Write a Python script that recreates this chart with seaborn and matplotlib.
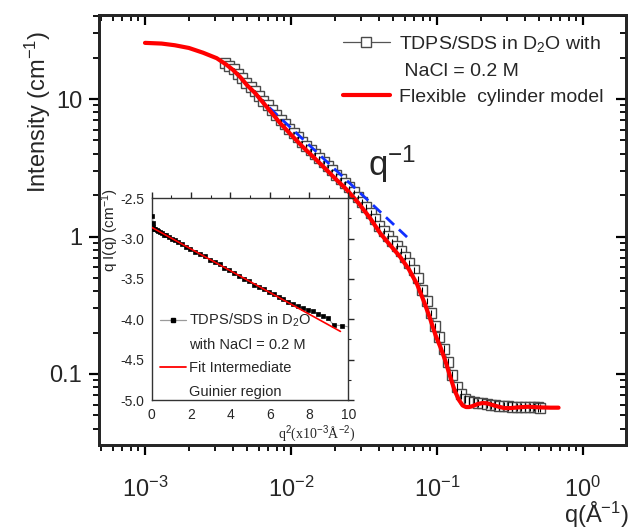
import numpy as np
import pandas as pd
import matplotlib
matplotlib.use("Agg")
import matplotlib.pyplot as plt
import seaborn as sns
from matplotlib import font_manager as fm
from matplotlib.lines import Line2D
from matplotlib.ticker import FixedLocator, FixedFormatter, MultipleLocator, FormatStrFormatter, LogLocator, NullFormatter

# ---------------- data ----------------
data_q = [3.53e-3, 3.78e-3, 4.04e-3, 4.32e-3, 4.62e-3, 4.95e-3, 5.29e-3, 5.66e-3, 6.06e-3, 6.48e-3,
          6.94e-3, 7.42e-3, 7.94e-3, 8.50e-3, 9.09e-3, 9.73e-3, 1.041e-2, 1.114e-2, 1.192e-2, 1.275e-2,
          1.365e-2, 1.460e-2, 1.562e-2, 1.672e-2, 1.789e-2, 1.914e-2, 2.048e-2, 2.191e-2, 2.345e-2, 2.509e-2,
          2.685e-2, 2.873e-2, 3.074e-2, 3.289e-2, 3.519e-2, 3.766e-2, 4.029e-2, 4.311e-2, 4.613e-2, 4.936e-2,
          5.282e-2, 5.651e-2, 6.047e-2, 6.470e-2, 6.923e-2, 7.408e-2, 7.926e-2, 8.481e-2, 9.075e-2, 9.710e-2,
          0.1039, 0.1112, 0.1190, 0.1273, 0.1362, 0.1457, 0.1559, 0.1669, 0.1785, 0.1910,
          0.2044, 0.2187, 0.2340, 0.2504, 0.2679, 0.2867, 0.3068, 0.3282, 0.3512, 0.3758,
          0.4021, 0.4302, 0.4603, 0.4926, 0.507]
data_I = [18.3, 17.3, 16.4, 15.3, 14.2, 13.0, 12.2, 11.4, 10.5, 9.75,
          9.0, 8.3, 7.6, 7.0, 6.55, 6.05, 5.65, 5.25, 4.88, 4.58,
          4.27, 4.0, 3.74, 3.48, 3.24, 3.02, 2.82, 2.63, 2.45, 2.28,
          2.11, 1.94, 1.78, 1.63, 1.48, 1.34, 1.2, 1.10, 1.01, 0.92,
          0.85, 0.78, 0.71, 0.64, 0.57, 0.495, 0.41, 0.34, 0.28, 0.225,
          0.185, 0.152, 0.122, 0.098, 0.080, 0.071, 0.066, 0.064, 0.0625, 0.062,
          0.0612, 0.0605, 0.0598, 0.0592, 0.0588, 0.0585, 0.0582, 0.0580, 0.0578, 0.0577,
          0.0576, 0.0575, 0.0574, 0.0572, 0.0570]
data_err = [0.37, 0.35, 0.33, 0.31, 0.28, 0.26, 0.24, 0.23, 0.21, 0.20,
            0.18, 0.17, 0.15, 0.14, 0.13, 0.12, 0.11, 0.10, 0.098, 0.092,
            0.13, 0.12, 0.11, 0.10, 0.097, 0.091, 0.085, 0.079, 0.074, 0.068,
            0.063, 0.058, 0.089, 0.082, 0.074, 0.067, 0.060, 0.055, 0.050, 0.046,
            0.0425, 0.039, 0.0355, 0.032, 0.0285, 0.025, 0.0205, 0.017, 0.014, 0.0113,
            0.013, 0.0106, 0.0085, 0.0069, 0.0056, 0.0050, 0.0046, 0.0045, 0.0044, 0.0043,
            0.0043, 0.0042, 0.0042, 0.0041, 0.0041, 0.0041, 0.0041, 0.0041, 0.0040, 0.0040,
            0.0040, 0.0040, 0.0040, 0.0040, 0.0040]

model_q = [1.0e-3, 1.3e-3, 1.6e-3, 2.0e-3, 2.5e-3, 3.1e-3, 3.6e-3, 4.0e-3, 4.5e-3, 5.0e-3,
           5.7e-3, 6.5e-3, 7.4e-3, 8.4e-3, 1.0e-2, 1.2e-2, 1.4e-2, 1.7e-2, 2.0e-2, 2.4e-2,
           2.9e-2, 3.5e-2, 4.1e-2, 4.8e-2, 5.6e-2, 6.4e-2, 7.3e-2, 8.2e-2, 9.0e-2, 0.098,
           0.106, 0.114, 0.123, 0.132, 0.141, 0.150, 0.158, 0.166, 0.176, 0.19,
           0.205, 0.22, 0.24, 0.265, 0.29, 0.32, 0.36, 0.42, 0.5, 0.6, 0.68]
model_I = [25.6, 25.3, 24.6, 23.5, 21.7, 19.8, 17.8, 16.3, 14.4, 12.6,
           11.0, 9.3, 7.9, 6.7, 5.5, 4.5, 3.85, 3.15, 2.65, 2.2,
           1.75, 1.35, 1.05, 0.86, 0.71, 0.58, 0.45, 0.33, 0.25, 0.19,
           0.155, 0.125, 0.096, 0.076, 0.065, 0.059, 0.0575, 0.0575, 0.0585, 0.0605,
           0.0615, 0.0612, 0.0595, 0.0578, 0.0565, 0.0565, 0.0572, 0.0578, 0.0572, 0.0569, 0.0569]

slope_q = [0.0058, 0.065]
slope_I = [10.6, 0.95]

inset_x = [0.02, 0.05, 0.08, 0.12, 0.18, 0.25, 0.33, 0.42, 0.52, 0.63,
           0.75, 0.88, 1.02, 1.18, 1.35, 1.55, 1.75, 1.97, 2.2, 2.45,
           2.7, 2.95, 3.2, 3.45, 3.7, 3.95, 4.2, 4.45, 4.7, 4.95,
           5.2, 5.45, 5.7, 5.95, 6.2, 6.45, 6.7, 6.95, 7.2, 7.45,
           7.7, 7.95, 8.2, 8.45, 8.7, 8.95, 9.25, 9.7, 10.4]
inset_y = [-2.72, -2.80, -2.86, -2.88, -2.88, -2.89, -2.91, -2.92, -2.93, -2.95,
           -2.96, -2.98, -3.00, -3.02, -3.04, -3.07, -3.10, -3.13, -3.17, -3.19,
           -3.22, -3.26, -3.29, -3.32, -3.36, -3.39, -3.43, -3.46, -3.50, -3.53,
           -3.57, -3.60, -3.63, -3.66, -3.69, -3.72, -3.75, -3.78, -3.81, -3.84,
           -3.86, -3.88, -3.90, -3.93, -3.96, -3.98, -4.07, -4.08, -4.11]
fit_x = [0.0, 9.6]
fit_y = [-2.86, -4.15]

x_major = [1e-3, 1e-2, 1e-1, 1e0]
x_labels = ['$10^{-3}$', '$10^{-2}$', '$10^{-1}$', '$10^{0}$']
y_major = [0.1, 1, 10]
y_labels = ['0.1', '1', '10']

# ---------------- style ----------------
sns.set_style("white")
names = {f.name for f in fm.fontManager.ttflist}
SANS = 'Liberation Sans' if 'Liberation Sans' in names else 'DejaVu Sans'
NARROW = 'Liberation Sans Narrow' if 'Liberation Sans Narrow' in names else SANS
SERIF = 'Liberation Serif' if 'Liberation Serif' in names else 'DejaVu Serif'
inset_fs = 12 if NARROW != SANS else 10
inset_tick_fs = 11.5 if NARROW != SANS else 10
plt.rcParams['font.family'] = [SANS, 'DejaVu Sans']
plt.rcParams['mathtext.fontset'] = 'custom'
plt.rcParams['mathtext.rm'] = SANS
plt.rcParams['mathtext.it'] = SANS + ':italic'
plt.rcParams['mathtext.bf'] = SANS + ':bold'
plt.rcParams['axes.unicode_minus'] = False

W, H = 630, 532
fig = plt.figure(figsize=(W / 100, H / 100), dpi=100)
L, R, T, B = 99, 626, 15, 445
ax = fig.add_axes([L / W, (H - B) / H, (R - L) / W, (B - T) / H])

df = pd.DataFrame({'q': data_q, 'I': data_I, 'err': data_err})
dm = pd.DataFrame({'q': model_q, 'I': model_I})
ds = pd.DataFrame({'q': slope_q, 'I': slope_I})

ax.set_xscale('log')
ax.set_yscale('log')

sns.lineplot(data=df, x='q', y='I', ax=ax, estimator=None, sort=False, color='#777777', lw=0.8,
             marker='s', markersize=7.5, markerfacecolor='white', markeredgecolor='#4a4a4a',
             markeredgewidth=1.0, zorder=3)
ax.errorbar(df['q'], df['I'], yerr=df['err'], fmt='none', ecolor='black', elinewidth=0.8,
            capsize=0, zorder=4)
sns.lineplot(data=ds, x='q', y='I', ax=ax, estimator=None, sort=False, color='#1030ff', lw=2.0,
             dashes=False, zorder=4.5)
ax.lines[-1].set_dashes((4.0, 2.4))
sns.lineplot(data=dm, x='q', y='I', ax=ax, estimator=None, sort=False, color='#ff0000', lw=3.0,
             zorder=5)

ax.set_xlim(10 ** (-3 - (145 - L) / 146), 10 ** ((R - 583) / 146))
ax.set_ylim(10 ** (-1 - (B - 374) / 137.5), 10 ** (1 + (99 - T) / 137.5))
ax.set_xlabel('')
ax.set_ylabel('')

for sp in ax.spines.values():
    sp.set_linewidth(1.8)
    sp.set_color('black')

ax.xaxis.set_major_locator(FixedLocator(x_major))
ax.xaxis.set_major_formatter(FixedFormatter(x_labels))
ax.xaxis.set_minor_locator(LogLocator(base=10, subs=np.arange(2, 10), numticks=20))
ax.xaxis.set_minor_formatter(NullFormatter())
ax.yaxis.set_major_locator(FixedLocator(y_major))
ax.yaxis.set_major_formatter(FixedFormatter(y_labels))
ax.yaxis.set_minor_locator(LogLocator(base=10, subs=np.arange(2, 10), numticks=20))
ax.yaxis.set_minor_formatter(NullFormatter())
ax.tick_params(which='major', direction='out', length=7, width=1.6, labelsize=17, color='black')
ax.tick_params(which='minor', direction='out', length=4, width=1.3, color='black')
ax.tick_params(axis='x', which='major', pad=16)
ax.tick_params(axis='y', which='major', pad=5)

# top / right inward ticks
axt = ax.twiny()
axt.set_xscale('log')
axt.set_xlim(ax.get_xlim())
axt.xaxis.set_major_locator(FixedLocator(x_major))
axt.xaxis.set_minor_locator(LogLocator(base=10, subs=np.arange(2, 10), numticks=20))
axt.tick_params(axis='x', which='both', direction='in', labeltop=False, color='black')
axt.tick_params(axis='x', which='major', length=7, width=1.6)
axt.tick_params(axis='x', which='minor', length=4, width=1.3)
axr = ax.twinx()
axr.set_yscale('log')
axr.set_ylim(ax.get_ylim())
axr.yaxis.set_major_locator(FixedLocator(y_major))
axr.yaxis.set_minor_locator(LogLocator(base=10, subs=np.arange(2, 10), numticks=20))
axr.tick_params(axis='y', which='both', direction='in', labelright=False, color='black')
axr.tick_params(axis='y', which='major', length=7, width=1.6)
axr.tick_params(axis='y', which='minor', length=4, width=1.3)
for a in (axt, axr):
    for sp in a.spines.values():
        sp.set_linewidth(1.8)

# q^-1 annotation
ax.text(0.0335, 2.75, 'q$^{-1}$', fontsize=25, ha='left', va='baseline', zorder=6)

# main legend
h1 = Line2D([], [], color='#555555', lw=0.9, marker='s', markersize=7.5, markerfacecolor='white',
            markeredgecolor='#4a4a4a')
h_blank = Line2D([], [], color='none')
h2 = Line2D([], [], color='#ff0000', lw=3.0)
leg = ax.legend([h1, h_blank, h2], ['TDPS/SDS in D$_2$O with', ' NaCl = 0.2 M', 'Flexible  cylinder model'],
                loc='upper left', bbox_to_anchor=((343 - L) / (R - L), (B - 34) / (B - T)),
                frameon=False, fontsize=14, handlelength=2.4, handletextpad=0.5,
                labelspacing=0.42, borderpad=0, borderaxespad=0, numpoints=1)

# axis labels
fig.text(38 / W, (H - 112) / H, 'Intensity (cm$^{-1}$)', rotation=90, fontsize=17,
         ha='center', va='center')
fig.text(629 / W, (H - 523) / H, 'q(Å$^{-1}$)', fontsize=17, ha='right', va='baseline')

# ---------------- inset ----------------
iL, iR, iT, iB = 151.7, 348.3, 198.3, 400
axi = fig.add_axes([iL / W, (H - iB) / H, (iR - iL) / W, (iB - iT) / H], zorder=10)
axi.set_facecolor('white')
di = pd.DataFrame({'x': inset_x, 'y': inset_y})
dfit = pd.DataFrame({'x': fit_x, 'y': fit_y})
sns.lineplot(data=di, x='x', y='y', ax=axi, estimator=None, sort=False, color='#9a9a9a', lw=0.8,
             marker='s', markersize=3.2, markerfacecolor='black', markeredgecolor='black',
             markeredgewidth=0.5, zorder=3)
sns.lineplot(data=dfit, x='x', y='y', ax=axi, estimator=None, sort=False, color='#ff0000', lw=1.2,
             zorder=4)
axi.set_xlim(0, 10)
axi.set_ylim(-5.0, -2.5)
axi.xaxis.set_major_locator(MultipleLocator(2))
axi.xaxis.set_minor_locator(MultipleLocator(1))
axi.yaxis.set_major_locator(MultipleLocator(0.5))
axi.yaxis.set_minor_locator(MultipleLocator(0.25))
axi.xaxis.set_major_formatter(FormatStrFormatter('%d'))
axi.yaxis.set_major_formatter(FormatStrFormatter('%.1f'))
axi.tick_params(which='major', direction='out', length=4, width=1.0, labelsize=inset_tick_fs, pad=1.5,
                top=True, right=True)
axi.tick_params(which='minor', direction='out', length=2.5, width=0.8, top=True, right=True)
for lab in axi.get_xticklabels() + axi.get_yticklabels():
    lab.set_fontfamily([NARROW, 'DejaVu Sans'])
for sp in axi.spines.values():
    sp.set_linewidth(1.0)
    sp.set_color('#333333')
axi.set_xlabel('q$^2$(x10$^{-3}$Å$^{-2}$)', fontsize=inset_fs, family=[SERIF, 'DejaVu Serif'])
axi.set_ylabel('q I(q) (cm$^{-1}$)', fontsize=inset_fs + 1, family=[NARROW, 'DejaVu Sans'])
axi.xaxis.set_label_coords((317 - iL) / (iR - iL), (iB - 423) / (iB - iT))
axi.yaxis.set_label_coords((121 - iL) / (iR - iL), (iB - 230) / (iB - iT))

hi1 = Line2D([], [], color='#9a9a9a', lw=0.9, marker='s', markersize=3.2, markerfacecolor='black',
             markeredgecolor='black')
hi2 = Line2D([], [], color='#ff0000', lw=1.3)
legi = axi.legend([hi1, h_blank, hi2, h_blank],
                  ['TDPS/SDS in D$_2$O', 'with NaCl = 0.2 M', 'Fit Intermediate', 'Guinier region'],
                  loc='upper left', bbox_to_anchor=((160 - iL) / (iR - iL), (iB - 312) / (iB - iT)),
                  frameon=False, prop={'family': [NARROW, 'DejaVu Sans'], 'size': inset_fs + 0.5},
                  handlelength=1.8, handletextpad=0.2, labelspacing=0.62, borderpad=0,
                  borderaxespad=0, numpoints=1)

fig.savefig('out.png', dpi=100)
